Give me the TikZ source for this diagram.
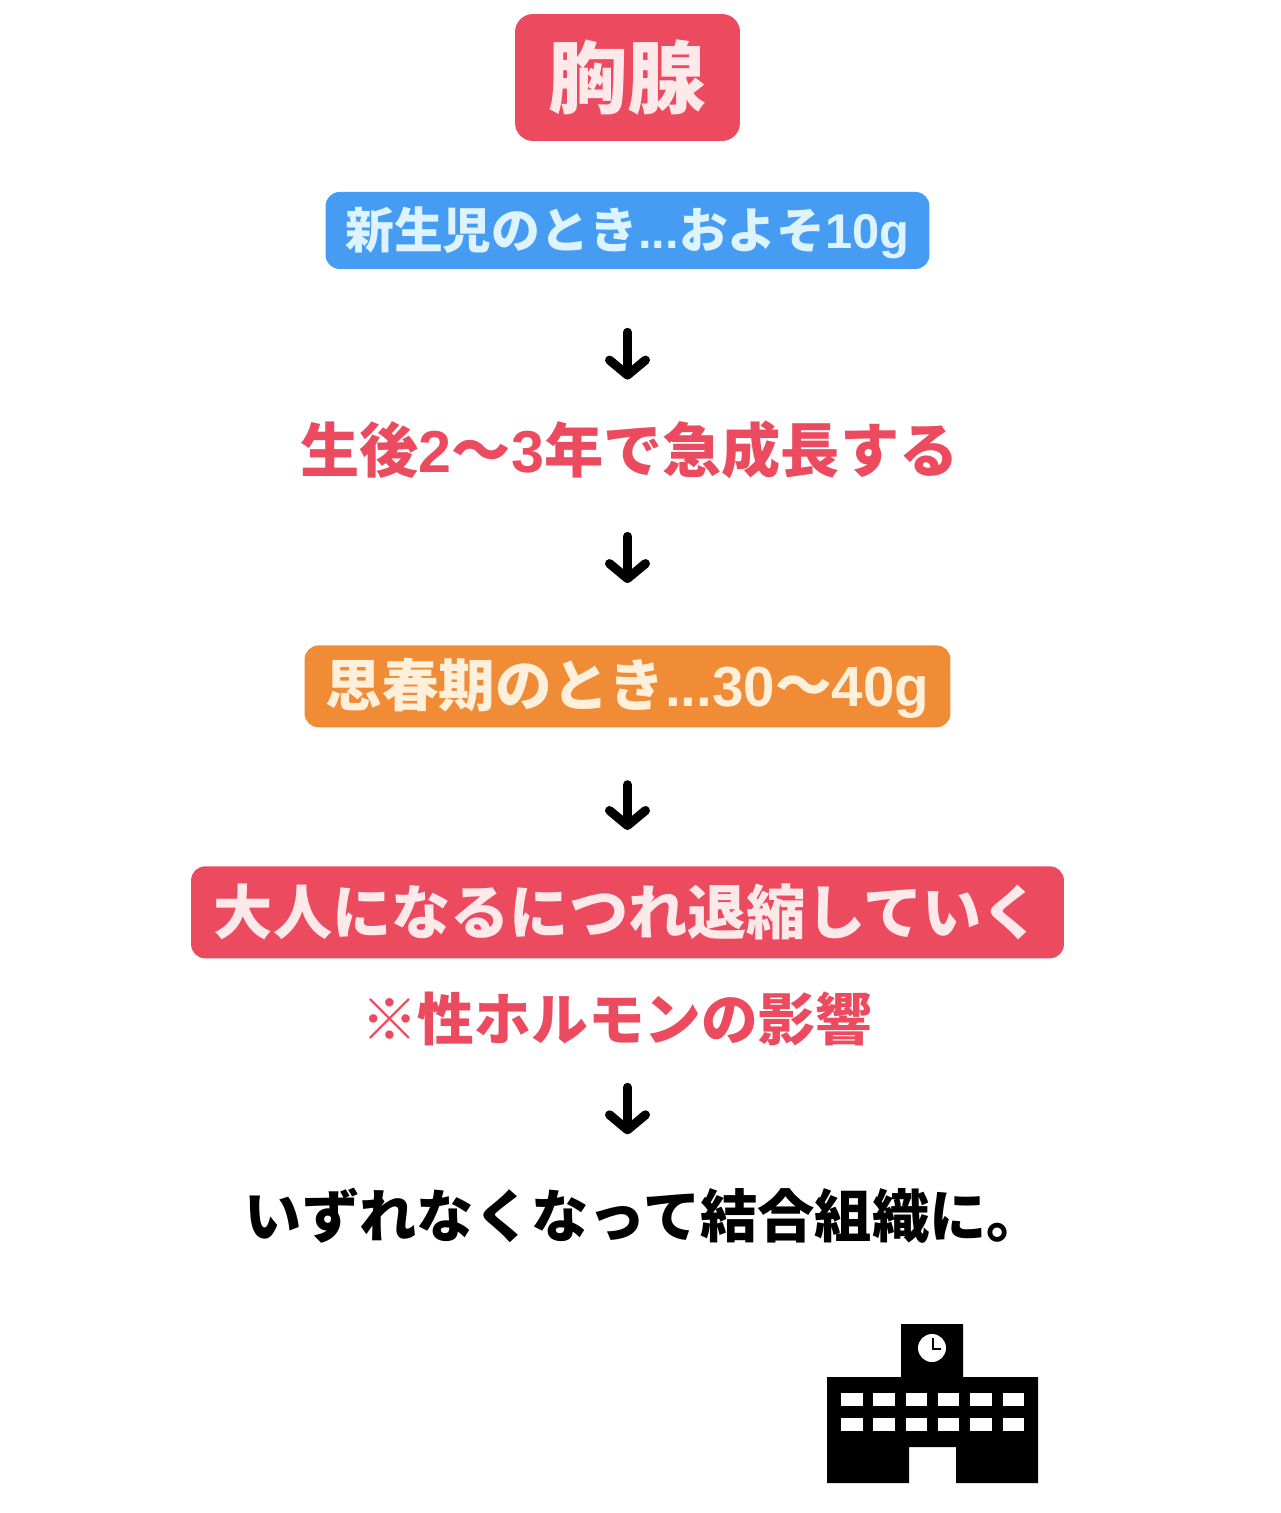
\documentclass[tikz,border=0pt]{standalone}
\usepackage{fontspec}
\setmainfont{Noto Sans CJK JP}
\newfontfamily\latinfont{Liberation Sans}
\usetikzlibrary{arrows.meta}
\definecolor{glandred}{HTML}{EC4A5E}
\definecolor{glandblue}{HTML}{459CF2}
\definecolor{glandorange}{HTML}{EF8C35}
\definecolor{redtext}{HTML}{FDE8EA}
\definecolor{bluetext}{HTML}{DDF4FF}
\definecolor{orangetext}{HTML}{FFF0DC}
\newcommand{\num}[1]{{\latinfont\bfseries #1}}
\tikzstyle{block} = [rectangle, fill=glandred, text=redtext, inner sep=0pt,
    rounded corners=0.28cm, font=\bfseries]
\tikzstyle{caption} = [rectangle, inner sep=0pt, text height=1.1cm, text depth=0.2cm,
    font=\bfseries]
\tikzstyle{line} = [draw, line width=0.18cm, line cap=round,
    -{Straight Barb[length=0.3cm, width=0.72cm, round]}]
\begin{document}
\begin{tikzpicture}[x=0.02cm, y=-0.02cm, node distance = 3cm]
    \useasboundingbox (0,0) rectangle (1280,1513);
    % Place nodes
    \node [block, rounded corners=0.36cm, minimum width=4.5cm, minimum height=2.54cm] (thymus) at (627.5,77.5)
        {\fontsize{45}{50}\selectfont 胸腺};
    \node [block, fill=glandblue, text=bluetext, minimum width=12.08cm, minimum height=1.54cm, text height=24pt, text depth=3.5pt, below of=thymus, node distance=3.06cm] (newborn)
        {\fontsize{27.8}{32}\selectfont 新生児のとき\num{...}およそ\num{10g}};
    \node [caption, text=glandred, below of=newborn, node distance=4.4cm, xshift=0.04cm] (growth)
        {\fontsize{33.7}{38}\selectfont 生後\num{2}〜\num{3}年で急成長する};
    \node [block, fill=glandorange, text=orangetext, minimum width=12.92cm, minimum height=1.64cm, text height=27pt, text depth=4.5pt, below of=newborn, node distance=9.12cm] (puberty)
        {\fontsize{32.2}{36}\selectfont 思春期のとき\num{...30}〜\num{40g}};
    \node [block, minimum width=17.46cm, minimum height=1.84cm, below of=puberty, node distance=4.52cm] (adult)
        {\fontsize{33.7}{38}\selectfont 大人になるにつれ退縮していく};
    \node [caption, text=glandred, below of=adult, node distance=2.12cm, xshift=-0.22cm] (hormone)
        {\fontsize{32.3}{37}\selectfont ※性ホルモンの影響};
    \node [caption, text=black, below of=adult, node distance=6.06cm, xshift=0.34cm] (tissue)
        {\fontsize{32.6}{37}\selectfont いずれなくなって結合組織に。};
    % Draw edges
    \path [line, shorten <=1.26cm, shorten >=0.76cm] (newborn) -- (newborn |- growth.north);
    \path [line, shorten <=1.72cm, shorten >=1.24cm] (newborn |- growth) -- (puberty);
    \path [line, shorten <=1.14cm, shorten >=0.72cm] (puberty) -- (adult);
    \path [line, shorten <=1.38cm, shorten >=1.62cm] (adult |- hormone) -- (adult |- tissue);
    % School building
    \fill [black] (827,1483) -- (827,1377) -- (901,1377) -- (901,1324) -- (963,1324) -- (963,1377)
        -- (1038,1377) -- (1038,1483) -- (956,1483) -- (956,1447) -- (909,1447) -- (909,1483) -- cycle;
    \foreach \col in {0,...,5}
        \foreach \row in {1393,1418}
            \fill [white] (841+32.3*\col,\row) rectangle ++(21.5,12.5);
    \fill [white] (932,1348) circle (0.28cm);
    \draw [black, line width=0.05cm] (933,1338) -- (933,1349) -- (941,1349);
\end{tikzpicture}
\end{document}
